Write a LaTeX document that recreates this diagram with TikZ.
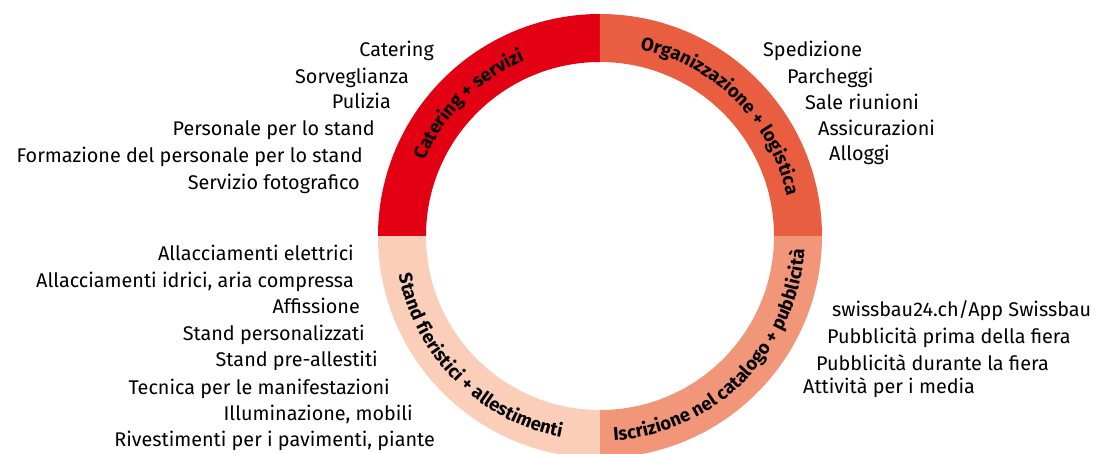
\documentclass[tikz,border=0pt]{standalone}
\usepackage{fontspec}
\setmainfont{Fira Sans}
\usetikzlibrary{decorations.text}

\definecolor{cateringred}{RGB}{226,0,18}
\definecolor{logisticsred}{RGB}{233,93,64}
\definecolor{catalogsalmon}{RGB}{242,150,122}
\definecolor{standpink}{RGB}{250,206,185}
\newcommand{\ringfont}{\bfseries\fontsize{18.5}{21}\selectfont}

\begin{document}
\begin{tikzpicture}[x=1pt, y=1pt,
    item/.style={inner sep=0pt, font=\fontsize{19.8}{23}\selectfont},
    itemleft/.style={item, anchor=base east},
    itemright/.style={item, anchor=base west},
    ringlabel/.style={decorate, decoration={text along path, text align=center, text={|\ringfont|#1}}}]
    \useasboundingbox (-600,-217) rectangle (512,236);

    % ring
    \fill[cateringred] (180:222) arc (180:90:222) -- (90:174) arc (90:180:174) -- cycle;
    \fill[logisticsred] (90:222) arc (90:0:222) -- (0:174) arc (0:90:174) -- cycle;
    \fill[catalogsalmon] (0:222) arc (0:-90:222) -- (-90:174) arc (-90:0:174) -- cycle;
    \fill[standpink] (-90:222) arc (-90:-180:222) -- (-180:174) arc (-180:-90:174) -- cycle;

    \path[ringlabel=Catering + servizi] (210:191) arc (210:60:191);
    \path[ringlabel=Organizzazione + logistica] (120:191) arc (120:-30:191);
    \path[ringlabel=Stand fieristici + allestimenti] (150:205) arc (150:300:205);
    \path[ringlabel=Iscrizione nel catalogo + pubblicità] (240:205) arc (240:390:205);

    % catering + servizi
    \node[itemleft] (catering) at (-166,179.3) {Catering};
    \node[itemleft] (sorveglianza) at (-191,152.7) {Sorveglianza};
    \node[itemleft] (pulizia) at (-209,127) {Pulizia};
    \node[itemleft] (personale) at (-225,100.3) {Personale per lo stand};
    \node[itemleft] (formazione) at (-237,74) {Formazione del personale per lo stand};
    \node[itemleft] (foto) at (-240,47) {Servizio fotografico};

    % organizzazione + logistica
    \node[itemright] (spedizione) at (163,179.3) {Spedizione};
    \node[itemright] (parcheggi) at (187,152.7) {Parcheggi};
    \node[itemright] (sale) at (205,126) {Sale riunioni};
    \node[itemright] (assicurazioni) at (218,100) {Assicurazioni};
    \node[itemright] (alloggi) at (229,75.3) {Alloggi};

    % iscrizione nel catalogo + pubblicita
    \node[itemright] (app) at (232,-80.7) {swissbau24.ch/App Swissbau};
    \node[itemright] (prima) at (227,-107.3) {Pubblicità prima della fiera};
    \node[itemright] (durante) at (216,-134) {Pubblicità durante la fiera};
    \node[itemright] (media) at (203,-157.3) {Attività per i media};

    % stand fieristici + allestimenti
    \node[itemleft] (elettrici) at (-246,-24.7) {Allacciamenti elettrici};
    \node[itemleft] (idrici) at (-246,-51.3) {Allacciamenti idrici, aria compressa};
    \node[itemleft] (affissione) at (-240,-77.3) {Affissione};
    \node[itemleft] (personalizzati) at (-235,-104) {Stand personalizzati};
    \node[itemleft] (preallestiti) at (-222,-130.7) {Stand pre-allestiti};
    \node[itemleft] (tecnica) at (-210,-158) {Tecnica per le manifestazioni};
    \node[itemleft] (illuminazione) at (-187,-184) {Illuminazione, mobili};
    \node[itemleft] (rivestimenti) at (-165,-210.7) {Rivestimenti per i pavimenti, piante};
\end{tikzpicture}
\end{document}
